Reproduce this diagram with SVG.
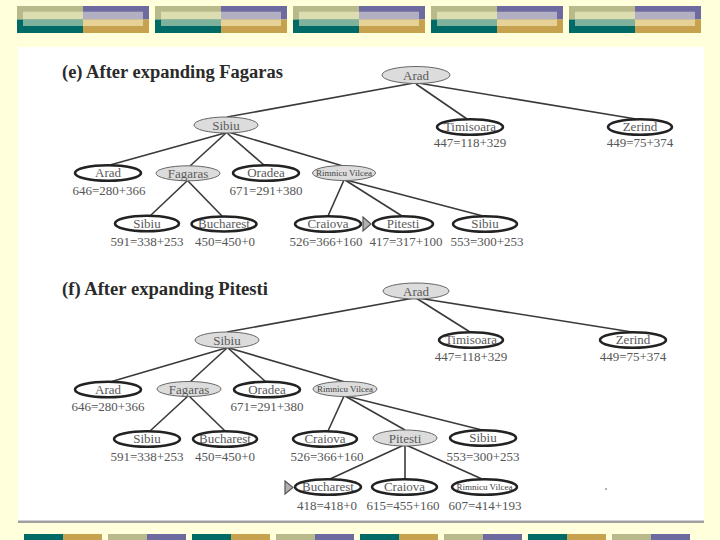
<svg xmlns="http://www.w3.org/2000/svg" xmlns:xlink="http://www.w3.org/1999/xlink" width="720" height="540" viewBox="0 0 720 540">
<style>
.hl{fill:#dcdcdc;stroke:#666;stroke-width:1}
.op{fill:#fff;stroke:#222;stroke-width:2.6}
.nt{font-family:"Liberation Serif",serif;font-size:13px;fill:#5a5a5a;text-anchor:middle}
.sm{font-family:"Liberation Serif",serif;font-size:9px;fill:#444;text-anchor:middle}
.num{font-family:"Liberation Serif",serif;font-size:13px;fill:#555;text-anchor:middle}
.ttl{font-family:"Liberation Serif",serif;font-size:18px;font-weight:bold;fill:#2a2a2a}
.mk{fill:#b0b0b0;stroke:#555;stroke-width:1.2}
#edges line{stroke:#3a3a3a;stroke-width:1.6}
</style>
<defs>
<g id="blk">
<rect x="17" y="6" width="66" height="13.5" fill="#b9ba8c"/>
<rect x="83" y="6" width="66" height="13.5" fill="#6c6a9f"/>
<rect x="17" y="19.5" width="66" height="13.5" fill="#006a66"/>
<rect x="83" y="19.5" width="66" height="13.5" fill="#c6a24e"/>
<rect x="23" y="11.7" width="60" height="7.8" fill="#dcdeb2"/>
<rect x="83" y="11.7" width="60" height="7.8" fill="#b2afc2"/>
<rect x="23" y="19.5" width="60" height="6.5" fill="#7fb29c"/>
<rect x="83" y="19.5" width="60" height="6.5" fill="#e6d296"/>
</g>
<g id="bar1"><rect x="24" y="534" width="39" height="6" fill="#006a66"/><rect x="63" y="534" width="39" height="6" fill="#c6a24e"/></g>
<g id="bar2"><rect x="108" y="534" width="39" height="6" fill="#b9ba8c"/><rect x="147" y="534" width="39" height="6" fill="#6c6a9f"/></g>
</defs>
<rect width="720" height="540" fill="#ffffdb"/>
<g id="banner">
<use xlink:href="#blk"/>
<use xlink:href="#blk" x="138"/>
<use xlink:href="#blk" x="276"/>
<use xlink:href="#blk" x="414"/>
<use xlink:href="#blk" x="552"/>
</g>
<rect x="18" y="47" width="686" height="475" fill="#fff"/>
<rect x="18" y="520.5" width="686" height="2.5" fill="#a0a0a0"/>
<g id="footer">
<use xlink:href="#bar1"/><use xlink:href="#bar2"/>
<use xlink:href="#bar1" x="168"/><use xlink:href="#bar2" x="168"/>
<use xlink:href="#bar1" x="336"/><use xlink:href="#bar2" x="336"/>
<use xlink:href="#bar1" x="504"/><use xlink:href="#bar2" x="504"/>
</g>
<text class="ttl" x="62" y="78" textLength="221" lengthAdjust="spacingAndGlyphs">(e) After expanding Fagaras</text>
<text class="ttl" x="62" y="295" textLength="206" lengthAdjust="spacingAndGlyphs">(f) After expanding Pitesti</text>
<g id="edges">
<line x1="414" y1="83" x2="227" y2="117"/>
<line x1="416" y1="84" x2="467" y2="119"/>
<line x1="418" y1="83" x2="636" y2="119"/>
<line x1="225" y1="133" x2="110" y2="165"/>
<line x1="226" y1="133" x2="190" y2="166"/>
<line x1="227" y1="133" x2="264" y2="165"/>
<line x1="228" y1="132" x2="343" y2="166"/>
<line x1="187" y1="181" x2="150" y2="216"/>
<line x1="188" y1="181" x2="222" y2="216"/>
<line x1="344" y1="180" x2="328" y2="216"/>
<line x1="345" y1="180" x2="402" y2="216"/>
<line x1="346" y1="180" x2="483" y2="216"/>
<line x1="414" y1="298" x2="227" y2="332"/>
<line x1="416" y1="298" x2="470" y2="332"/>
<line x1="418" y1="298" x2="632" y2="332"/>
<line x1="226" y1="348" x2="110" y2="382"/>
<line x1="227" y1="348" x2="190" y2="382"/>
<line x1="228" y1="348" x2="266" y2="382"/>
<line x1="229" y1="348" x2="345" y2="382"/>
<line x1="188" y1="396" x2="150" y2="431"/>
<line x1="189" y1="396" x2="225" y2="431"/>
<line x1="344" y1="396" x2="328" y2="431"/>
<line x1="345" y1="396" x2="405" y2="430"/>
<line x1="346" y1="396" x2="482" y2="430"/>
<line x1="404" y1="445" x2="330" y2="479"/>
<line x1="405" y1="445" x2="405" y2="479"/>
<line x1="406" y1="445" x2="482" y2="479"/>
</g>
<g id="e-arad"><ellipse class="hl" cx="416" cy="75" rx="34" ry="8.5"/><text class="nt" x="416" y="79.5">Arad</text></g>
<g id="e-sibiu"><ellipse class="hl" cx="226" cy="125" rx="32" ry="8"/><text class="nt" x="226" y="129.5">Sibiu</text></g>
<g id="e-timisoara"><ellipse class="op" cx="470" cy="127" rx="33" ry="7.8"/><text class="nt" x="470" y="131">Timisoara</text><text class="num" x="470" y="147">447=118+329</text></g>
<g id="e-zerind"><ellipse class="op" cx="640" cy="127" rx="32" ry="7.8"/><text class="nt" x="640" y="131">Zerind</text><text class="num" x="640" y="147">449=75+374</text></g>
<g id="e-arad2"><ellipse class="op" cx="108" cy="173" rx="33" ry="7.8"/><text class="nt" x="108" y="177">Arad</text><text class="num" x="109" y="195">646=280+366</text></g>
<g id="e-fagaras"><ellipse class="hl" cx="188" cy="173.3" rx="32" ry="7.5"/><text class="nt" x="188" y="177.5">Fagaras</text></g>
<g id="e-oradea"><ellipse class="op" cx="266" cy="173" rx="33" ry="7.8"/><text class="nt" x="266" y="177">Oradea</text><text class="num" x="266" y="195">671=291+380</text></g>
<g id="e-rv"><ellipse class="hl" cx="344" cy="173" rx="31.5" ry="7.5"/><text class="sm" x="344" y="176">Rimnicu Vilcea</text></g>
<g id="e-sibiu2"><ellipse class="op" cx="147" cy="223.5" rx="32" ry="7.8"/><text class="nt" x="147" y="227.5">Sibiu</text><text class="num" x="147" y="246">591=338+253</text></g>
<g id="e-bucharest"><ellipse class="op" cx="224" cy="224" rx="32.5" ry="7.5"/><text class="nt" x="224" y="228">Bucharest</text><text class="num" x="225" y="246">450=450+0</text></g>
<g id="e-craiova"><ellipse class="op" cx="328" cy="224" rx="33" ry="7.8"/><text class="nt" x="328" y="228">Craiova</text><text class="num" x="326" y="246">526=366+160</text></g>
<g id="e-pitesti"><ellipse class="op" cx="403" cy="224" rx="30" ry="7.8"/><text class="nt" x="403" y="228">Pitesti</text><text class="num" x="406" y="246">417=317+100</text></g>
<g id="e-sibiu3"><ellipse class="op" cx="485" cy="224" rx="32" ry="7.8"/><text class="nt" x="485" y="228">Sibiu</text><text class="num" x="487" y="246">553=300+253</text></g>
<polygon class="mk" points="363,217 371,224 363,231"/>
<g id="f-arad"><ellipse class="hl" cx="416" cy="291" rx="33" ry="8"/><text class="nt" x="416" y="295.5">Arad</text></g>
<g id="f-sibiu"><ellipse class="hl" cx="227" cy="340" rx="32" ry="8"/><text class="nt" x="227" y="344.5">Sibiu</text></g>
<g id="f-timisoara"><ellipse class="op" cx="471" cy="340" rx="32" ry="7.8"/><text class="nt" x="471" y="344">Timisoara</text><text class="num" x="471" y="361">447=118+329</text></g>
<g id="f-zerind"><ellipse class="op" cx="633" cy="340" rx="33" ry="7.8"/><text class="nt" x="633" y="344">Zerind</text><text class="num" x="633" y="361">449=75+374</text></g>
<g id="f-arad2"><ellipse class="op" cx="108" cy="389.5" rx="33" ry="7.8"/><text class="nt" x="108" y="393.5">Arad</text><text class="num" x="108" y="411">646=280+366</text></g>
<g id="f-fagaras"><ellipse class="hl" cx="189" cy="389" rx="32" ry="7.5"/><text class="nt" x="189" y="393.5">Fagaras</text></g>
<g id="f-oradea"><ellipse class="op" cx="267" cy="389.5" rx="33" ry="7.8"/><text class="nt" x="267" y="393.5">Oradea</text><text class="num" x="267" y="411">671=291+380</text></g>
<g id="f-rv"><ellipse class="hl" cx="345" cy="389" rx="32" ry="7.5"/><text class="sm" x="345" y="392">Rimnicu Vilcea</text></g>
<g id="f-sibiu2"><ellipse class="op" cx="147" cy="439" rx="33" ry="7.8"/><text class="nt" x="147" y="443">Sibiu</text><text class="num" x="147" y="461">591=338+253</text></g>
<g id="f-bucharest"><ellipse class="op" cx="225" cy="439" rx="32" ry="7.8"/><text class="nt" x="225" y="443">Bucharest</text><text class="num" x="225" y="461">450=450+0</text></g>
<g id="f-craiova"><ellipse class="op" cx="325" cy="439" rx="32" ry="7.8"/><text class="nt" x="325" y="443">Craiova</text><text class="num" x="327" y="461">526=366+160</text></g>
<g id="f-pitesti"><ellipse class="hl" cx="405" cy="438" rx="32" ry="8"/><text class="nt" x="405" y="442.5">Pitesti</text></g>
<g id="f-sibiu3"><ellipse class="op" cx="483" cy="438" rx="33" ry="7.8"/><text class="nt" x="483" y="442">Sibiu</text><text class="num" x="483" y="461">553=300+253</text></g>
<g id="f-bucharest2"><ellipse class="op" cx="328" cy="487" rx="33" ry="7.8"/><text class="nt" x="328" y="491">Bucharest</text><text class="num" x="327" y="510">418=418+0</text></g>
<g id="f-craiova2"><ellipse class="op" cx="404.5" cy="487" rx="32.5" ry="7.8"/><text class="nt" x="404.5" y="491">Craiova</text><text class="num" x="403" y="510">615=455+160</text></g>
<g id="f-rv2"><ellipse class="op" cx="484.5" cy="487" rx="32.5" ry="7.8"/><text class="sm" x="484.5" y="490">Rimnicu Vilcea</text><text class="num" x="485" y="510">607=414+193</text></g>
<polygon class="mk" points="285,481 293,487.5 285,494"/>
<circle cx="606" cy="489" r="1" fill="#999"/>
</svg>
